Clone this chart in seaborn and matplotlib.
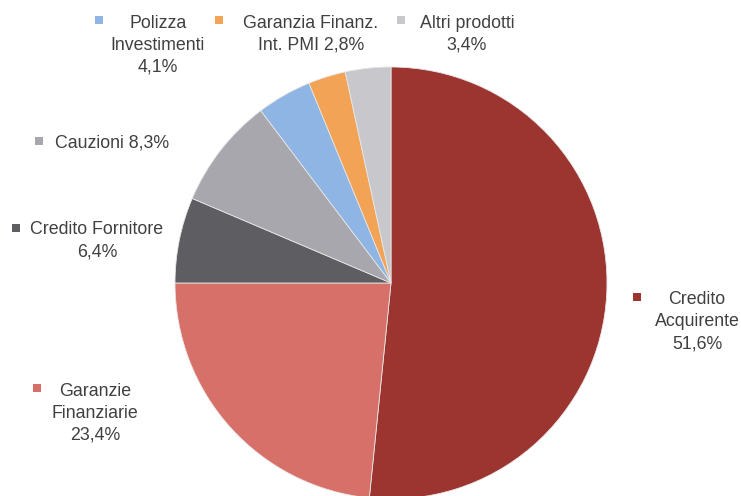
import matplotlib
matplotlib.use("Agg")
import matplotlib.pyplot as plt
import seaborn as sns

# data (share of portfolio, %)
products = ["Credito Acquirente", "Garanzie Finanziarie", "Credito Fornitore",
            "Cauzioni", "Polizza Investimenti", "Garanzia Finanz. Int. PMI",
            "Altri prodotti"]
shares = [51.6, 23.4, 6.4, 8.3, 4.1, 2.8, 3.4]
label_texts = ["Credito\nAcquirente\n51,6%", "Garanzie\nFinanziarie\n23,4%",
               "Credito Fornitore\n6,4%", "Cauzioni 8,3%",
               "Polizza\nInvestimenti\n4,1%", "Garanzia Finanz.\nInt. PMI 2,8%",
               "Altri prodotti\n3,4%"]

colors = ["#9c3430", "#d8706a", "#5e5e62", "#a8a7ad", "#8fb5e4", "#f3a356", "#c8c8cc"]

W, H = 741, 496
sns.set_theme(style="white")
plt.rcParams["font.family"] = ["Liberation Sans", "DejaVu Sans"]

fig = plt.figure(figsize=(W / 100, H / 100), dpi=100)
ax = fig.add_axes([0, 0, 1, 1])

ax.pie(shares, colors=colors, startangle=90, counterclock=False,
       center=(391, H - 283), radius=216,
       wedgeprops=dict(edgecolor="#e6e6e6", linewidth=0.6))

# label layout in pixel coords (marker x, marker y, text center x, first line center y)
layout = [
    (637, 297, 697, 298),
    (37, 388, 95, 389),
    (16, 228, 97, 228),
    (39, 141, 112, 141),
    (99, 20, 158, 21),
    (219, 20, 311, 21),
    (401, 20, 467, 21),
]

text_color = "#404040"
for (mx, my, tx, ty), txt, c in zip(layout, label_texts, colors):
    ax.scatter([mx], [H - my], marker="s", s=30, color=c, zorder=5, linewidths=0)
    lines = txt.split("\n")
    for i, line in enumerate(lines):
        ax.text(tx, H - (ty + 22 * i), line, ha="center", va="center_baseline",
                fontsize=12.8, color=text_color)

ax.set_xlim(0, W)
ax.set_ylim(0, H)
ax.set_aspect("auto")
ax.axis("off")

fig.savefig("out.png", dpi=100)
